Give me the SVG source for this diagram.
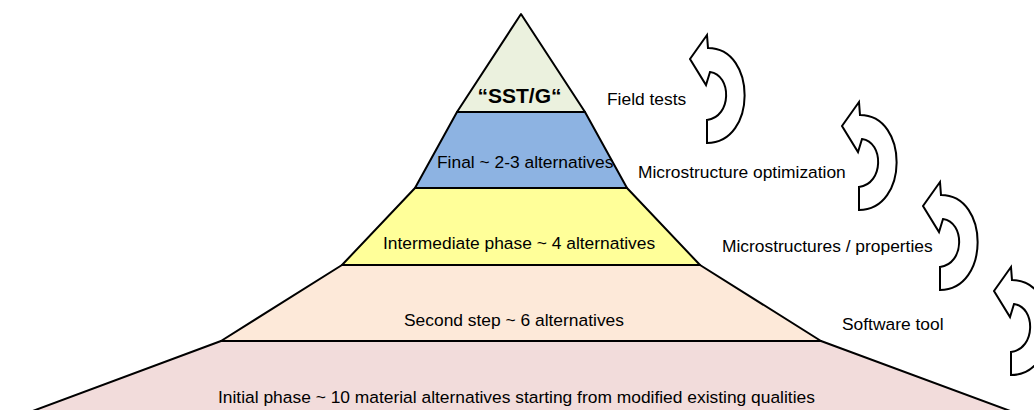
<svg xmlns="http://www.w3.org/2000/svg" xmlns:xlink="http://www.w3.org/1999/xlink" width="1034" height="410" viewBox="0 0 1034 410">
<style>
.layer{stroke:#000;stroke-width:2;stroke-linejoin:round}
.t{font-family:"Liberation Sans",Arial,sans-serif;font-size:17.4px;fill:#000}
.b{font-family:"Liberation Sans",Arial,sans-serif;font-size:21px;font-weight:bold;fill:#000}
.arr{fill:#fff;stroke:#000;stroke-width:2;stroke-linejoin:miter}
</style>
<defs>
<path id="uturn" class="arr" d="M0,0 L-17,24 L-1,50 L3,37 C25,40 25,82 0,85 L0,108 C50,108 50,13 1,13 Z"/>
</defs>
<rect width="1034" height="410" fill="#fff"/>
<g id="layer-initial">
<polygon class="layer" fill="#F2DCDB" points="221,341 821,341 1013,412 30,412"/>
<text class="t" x="218" y="403">Initial phase ~ 10 material alternatives starting from modified existing qualities</text>
</g>
<g id="layer-second">
<polygon class="layer" fill="#FDE9D9" points="342,265 700,265 821,341 221,341"/>
<text class="t" x="404" y="326">Second step ~ 6 alternatives</text>
</g>
<g id="layer-intermediate">
<polygon class="layer" fill="#FFFF99" points="415,188 627,188 700,265 342,265"/>
<text class="t" x="383" y="249">Intermediate phase ~ 4 alternatives</text>
</g>
<g id="layer-final">
<polygon class="layer" fill="#8DB3E2" points="457,112 585,112 627,188 415,188"/>
<text class="t" x="437" y="168">Final ~ 2-3 alternatives</text>
</g>
<g id="layer-top">
<polygon class="layer" fill="#EBF1DE" points="521,14 585,112 457,112"/>
<text class="b" x="519.5" y="103" text-anchor="middle">“SST/G“</text>
</g>
<g id="connectors">
<use xlink:href="#uturn" x="707" y="35"/>
<use xlink:href="#uturn" x="859" y="102"/>
<use xlink:href="#uturn" x="940" y="182"/>
<use xlink:href="#uturn" x="1011" y="267"/>
</g>
<g id="labels">
<text class="t" x="607" y="105">Field tests</text>
<text class="t" x="638" y="178">Microstructure optimization</text>
<text class="t" x="722" y="252">Microstructures / properties</text>
<text class="t" x="842" y="330">Software tool</text>
</g>
</svg>
